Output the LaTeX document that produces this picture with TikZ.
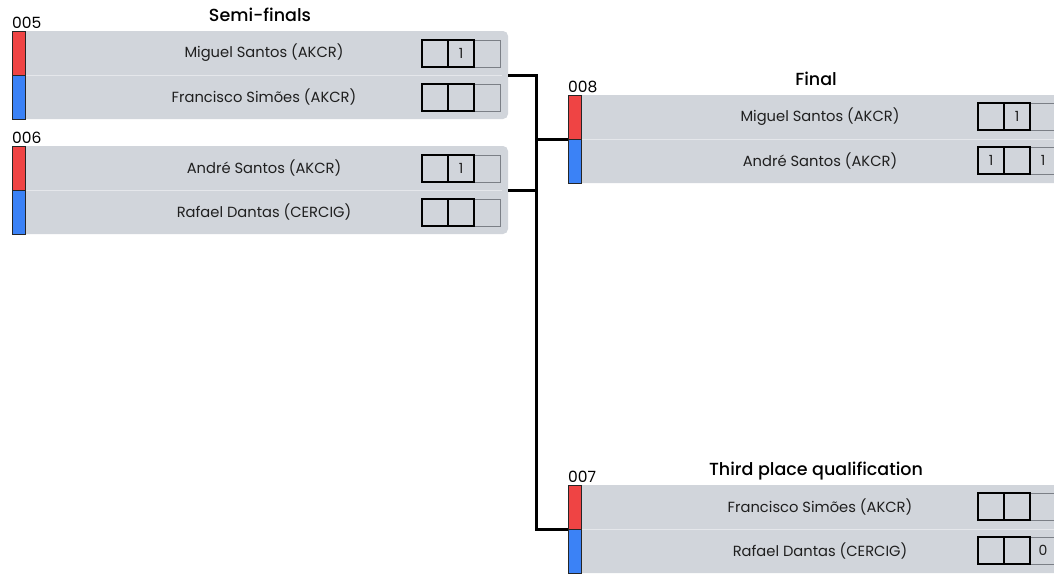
\documentclass[tikz,border=0pt]{standalone}
\usepackage{fontspec}
\setmainfont{Poppins}
\newfontfamily\titlefont{Poppins Medium}
\usetikzlibrary{calc}
\definecolor{boxgray}{HTML}{D1D5DB}
\definecolor{pred}{HTML}{EF4444}
\definecolor{pblue}{HTML}{3B82F6}
\definecolor{divgray}{HTML}{E5E7EB}
\definecolor{scoregray}{HTML}{7B7F86}
\definecolor{txt}{HTML}{1F1F1F}
\tikzset{
  matchbg/.style={fill=boxgray, rounded corners=5pt, inner sep=0pt, outer sep=0pt, minimum width=496pt, minimum height=88pt},
  divline/.style={draw=divgray, line width=1pt},
  redbar/.style={fill=pred, draw=black!85, line width=1pt},
  bluebar/.style={fill=pblue, draw=black!85, line width=1pt},
  nametext/.style={text=txt, inner sep=0pt, font=\fontsize{14.7}{16}\selectfont},
  numtext/.style={text=black, inner sep=0pt, font=\fontsize{15.5}{17}\selectfont},
  titletext/.style={text=black, inner sep=0pt, font=\titlefont\fontsize{17.5}{20}\selectfont},
  scorebox/.style={draw=black, line width=2pt, minimum width=26pt, minimum height=27pt, inner sep=0pt, outer sep=0pt, font=\fontsize{14}{16}\selectfont, text=txt},
  scoreboxg/.style={draw=scoregray, line width=1pt, minimum width=26pt, minimum height=27pt, inner sep=0pt, outer sep=0pt, font=\fontsize{14}{16}\selectfont, text=txt},
  conn/.style={draw=black, line width=3pt, line join=miter}
}
% #1 name, #2 x0, #3 top, #4 label, #5 title, #6 player 1, #7 player 2
\newcommand\matchbox[7]{%
  \node[matchbg] (#1) at ({#2+248},{#3+44}) {};
  \draw[divline] ({#2+13},{#3+44}) -- ({#2+490},{#3+44});
  \filldraw[redbar] (#2,#3) rectangle ({#2+13},{#3+44});
  \filldraw[bluebar] (#2,{#3+44}) rectangle ({#2+13},{#3+88});
  \node[numtext, anchor=base west] (#1-lab) at (#2,{#3-3}) {#4};
  \node[titletext, anchor=base] (#1-title) at ({#2+248},{#3-10}) {#5};
  \node[nametext] (#1-p1) at ({#2+252},{#3+22}) {#6};
  \node[nametext] (#1-p2) at ({#2+252},{#3+66}) {#7};
}
% #1 match name, #2 row (p1/p2), #3 x0, #4 y centre, #5 #6 #7 scores
\newcommand\scorerow[7]{%
  \node[scoreboxg] (#1-#2-s3) at ({#3+475},#4) {#7};
  \node[scorebox] (#1-#2-s1) at ({#3+423},#4) {#5};
  \node[scorebox] (#1-#2-s2) at ({#3+449},#4) {#6};
}
\begin{document}
\begin{tikzpicture}[x=1pt,y=-1pt]
\useasboundingbox (0,0) rectangle (1054,573);
\clip (0,0) rectangle (1054,573);
\fill[white] (0,0) rectangle (1054,573);

\matchbox{m005}{12}{31}{005}{Semi-finals}{Miguel Santos (AKCR)}{Francisco Simões (AKCR)}
\scorerow{m005}{p1}{12}{53.5}{}{1}{}
\scorerow{m005}{p2}{12}{97.5}{}{}{}

\matchbox{m006}{12}{146}{006}{}{André Santos (AKCR)}{Rafael Dantas (CERCIG)}
\scorerow{m006}{p1}{12}{168.5}{}{1}{}
\scorerow{m006}{p2}{12}{212.5}{}{}{}

\matchbox{m008}{568}{95}{008}{Final}{Miguel Santos (AKCR)}{André Santos (AKCR)}
\scorerow{m008}{p1}{568}{116.5}{}{1}{}
\scorerow{m008}{p2}{568}{160.5}{1}{}{1}

\matchbox{m007}{568}{485}{007}{Third place qualification}{Francisco Simões (AKCR)}{Rafael Dantas (CERCIG)}
\scorerow{m007}{p1}{568}{506.5}{}{}{}
\scorerow{m007}{p2}{568}{550.5}{}{}{0}

\draw[conn] (m005.east) -- ++(28,0) |- (m007.west);
\draw[conn] (m006.east) -- ++(28,0);
\draw[conn] (m008.west) -- ++(-32,0);
\end{tikzpicture}
\end{document}
